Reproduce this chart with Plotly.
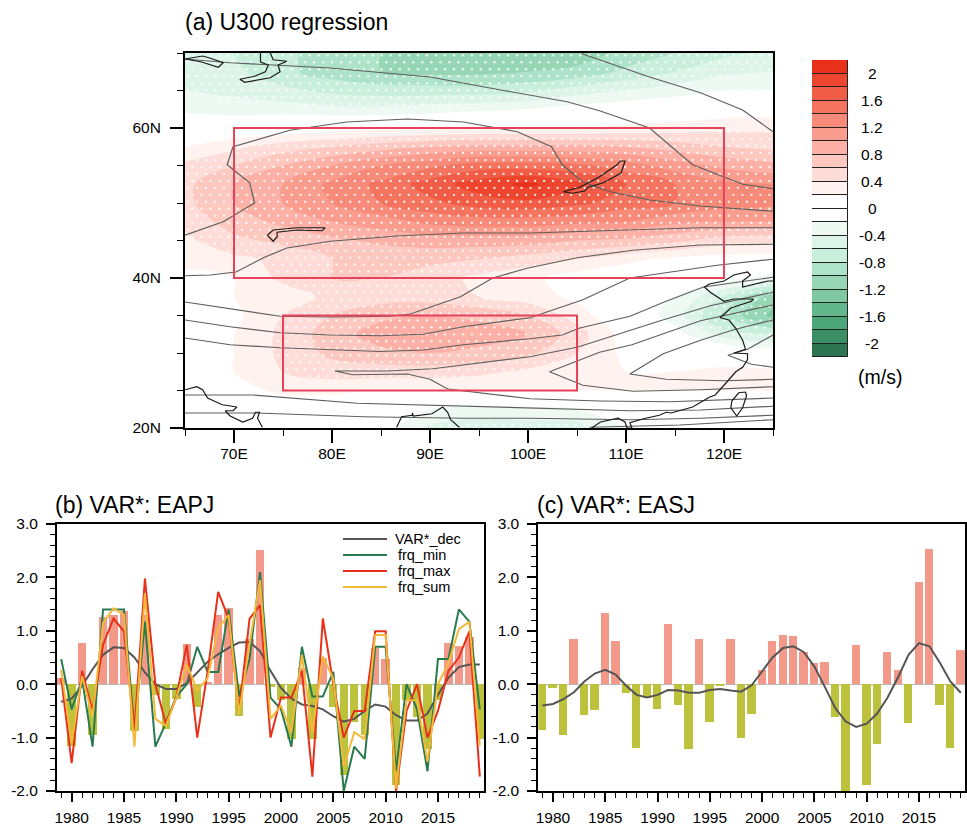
import numpy as np
import plotly.graph_objects as go

W, H = 967, 827
FONT = "Liberation Sans"

# ---------- panel (a) regression field (m/s) ----------
lon = [65, 70, 75, 80, 85, 90, 95, 100, 105, 110, 115, 120, 125]
lat = [20, 22.5, 25, 27.5, 30, 32.5, 35, 37.5, 40, 42.5, 45, 47.5, 50, 52.5, 55, 57.5, 60, 62.5, 65, 67.5, 70]
u300 = [
    [0, 0, 0, 0, -.1, -.45, -.55, -.5, -.5, -.2, 0, 0, 0],
    [0, 0, 0, 0, -.05, -.2, -.25, -.25, -.2, -.05, 0, 0, 0],
    [0, .1, .25, .25, .2, .2, .2, .2, .2, .2, .2, .2, .2],
    [0, .2, .4, .5, .5, .5, .45, .35, .25, .2, .2, .25, .25],
    [0, .2, .45, .65, .75, .8, .75, .65, .4, .15, .05, .05, -.1],
    [.05, .2, .45, .7, .9, .95, .9, .8, .5, .1, -.1, -.5, -.6],
    [.05, .15, .4, .6, .75, .8, .75, .6, .3, 0, -.3, -.85, -1.25],
    [.1, .2, .3, .45, .5, .5, .4, .3, .15, 0, -.2, -.6, -1.1],
    [.15, .2, .45, .6, .6, .5, .35, .25, .1, .05, 0, -.1, -.3],
    [.25, .35, .45, .6, .62, .65, .6, .5, .4, .25, .15, .1, .1],
    [.35, .55, .65, .75, .85, .9, .9, .9, .8, .75, .65, .5, .45],
    [.45, .7, .85, 1.0, 1.1, 1.25, 1.3, 1.3, 1.25, 1.2, 1.05, 1.0, 1.0],
    [.55, .8, 1.0, 1.2, 1.4, 1.55, 1.7, 1.75, 1.65, 1.5, 1.4, 1.3, 1.25],
    [.55, .8, 1.0, 1.25, 1.45, 1.7, 1.9, 2.05, 1.85, 1.6, 1.4, 1.25, 1.2],
    [.45, .6, .8, 1.0, 1.2, 1.35, 1.5, 1.5, 1.45, 1.3, 1.1, .95, .85],
    [.2, .35, .5, .6, .7, .8, .85, .85, .85, .8, .7, .6, .55],
    [0, 0, .05, .1, .15, .15, .2, .2, .2, .25, .3, .35, .35],
    [-.25, -.3, -.3, -.35, -.35, -.3, -.25, -.2, -.1, -.05, 0, .05, .1],
    [-.4, -.45, -.55, -.65, -.7, -.7, -.7, -.65, -.5, -.4, -.3, -.2, -.2],
    [-.45, -.55, -.75, -.9, -1.0, -1.05, -1.05, -1.0, -.95, -.75, -.6, -.45, -.4],
    [-.55, -.6, -.75, -.9, -1.0, -1.1, -1.15, -1.15, -1.1, -.95, -.8, -.65, -.55],
]

# colour table, from below -2.2 up to above 2.2
level_colors = ["#2A7550", "#2D7550", "#3B8F66", "#4BA679", "#62B78C", "#7DC8A2", "#96D6B5",
                "#ADE3C8", "#C8EEDC", "#DDF4E9", "#EEF9F4", "#FFFFFF", "#FFFFFF", "#FFF2EF",
                "#FEDDD8", "#FDC8C0", "#FCB0A6", "#FA9C8E", "#F78A78", "#F47460", "#F05C45",
                "#EE452E", "#E8301A", "#E8301A"]
cbar_levels = [round(-2.2 + 0.2 * i, 1) for i in range(22)]
cbar_ticks = [2, 1.6, 1.2, 0.8, 0.4, 0, -0.4, -0.8, -1.2, -1.6, -2]
cbar_labels = ["2", "1.6", "1.2", "0.8", "0.4", "0", "-0.4", "-0.8", "-1.2", "-1.6", "-2"]

# climatological wind contours, (lon, lat)
clim_lines = [
    [(65, 69.2), (69.6, 68.7), (79.8, 68), (90, 66.8), (97.1, 65.1), (104, 63.5), (107.3, 62.3),
     (112.4, 60), (116.8, 55.1), (121.9, 52.5), (125, 51.9)],
    [(105.5, 69.9), (112.4, 66.8), (117.6, 64.7), (121.9, 62.4), (125, 59.5)],
    [(65, 45.7), (68.9, 47.5), (72.1, 50), (71.6, 52.7), (69.3, 55.1), (69.9, 57.5), (75.7, 59.7),
     (81.5, 60.8), (87.7, 61.2), (93.4, 60.8), (98.9, 59.5), (102.4, 57.5), (103.5, 55.1),
     (105.6, 52.8), (108.4, 51.5), (112.4, 50.4), (117.6, 49.6), (125, 48.9)],
    [(65, 40.3), (67.6, 40.4), (70.2, 40.8), (73, 42.7), (75.4, 44), (79.8, 44.9), (86.6, 45.6),
     (93.4, 46), (100.2, 46), (107.3, 46.3), (117.6, 46.7), (125, 46.7)],
    [(65, 36.8), (69.6, 35.9), (74.7, 34.9), (79.8, 34.8), (85.9, 34.9), (88, 35.2), (93.1, 37.5),
     (96.4, 40), (99.9, 41.3), (105, 42.7), (110.7, 43.7), (117.6, 44.4), (125, 44.5)],
    [(65, 34.4), (69.6, 33.5), (74.7, 32.7), (79.8, 32.4), (84.9, 32.3), (89.3, 32.5), (93.4, 33.5),
     (100.2, 34.7), (105.6, 37.1), (110.4, 40), (119.3, 41.7), (125, 42.5)],
    [(65, 32), (69.6, 31.1), (74.7, 30.7), (79.8, 30.4), (84.9, 30.2), (89.3, 30.4), (93.4, 31.1),
     (100.2, 31.9), (103.5, 32.4), (105.2, 33.3), (110.4, 34.9), (114.1, 36.9), (117.9, 38.8), (125, 40.1)],
    [(125, 38.1), (118.6, 36.3), (113.5, 34.3), (107.4, 31.7), (105.1, 30.8), (100.2, 29.5), (90.3, 27.9),
     (85.6, 27.6), (80.3, 27.6), (82.1, 27.1), (87.7, 27.2), (90, 26.5), (91.8, 25.2), (100.2, 23.9),
     (107.3, 23.6), (114.5, 23.5), (125, 24)],
    [(125, 36.4), (117.6, 34.3), (110.6, 31.1), (107.3, 30.1), (102.2, 27.5), (105.6, 25.7), (110.7, 24.9),
     (117.6, 25.1), (125, 25.5)],
    [(125, 34.4), (121, 33.1), (117.6, 31.7), (113.8, 29.9), (110.4, 27.2), (114.1, 26.5), (120, 26.3), (125, 26.5)],
    [(125, 32.4), (122.4, 30.5), (120.4, 29.7), (122.8, 28.5), (125, 28.1)],
    [(65, 24.4), (71.9, 24.4), (82.6, 23.3), (93.4, 22.9), (100.2, 22.7), (110.4, 22.3), (117.6, 22.4), (125, 22.9)],
    [(65, 22), (72.3, 22), (83.2, 21.5), (93.4, 21.3), (100.2, 21.3), (110.4, 21.1), (117.6, 21.3), (125, 21.7)],
    [(106.3, 20.1), (115.5, 20.4), (125, 21.1)],
]

coast_lines = [
    [(65, 69.2), (66.8, 69.6), (67.6, 69.3), (68.9, 68.7), (68.4, 68.1), (66.7, 68.8), (65, 69.2)],
    [(72.7, 70), (72.7, 68.8), (73.5, 68.4), (73.2, 67.5), (72.1, 66.9), (70.6, 66.5), (71.1, 66.1),
     (73.7, 66.7), (74.7, 67.5), (74.5, 68.4), (75.4, 68.9), (74, 69.1), (73.7, 70)],
    [(73.4, 45.7), (74, 46.4), (76.4, 46.7), (79.3, 46.7), (79, 46.3), (76.4, 46.4), (74.4, 46.1),
     (74.4, 45.5), (74, 44.9), (73.4, 45.7)],
    [(103.6, 51.5), (105.3, 52.1), (107.3, 53.5), (109.1, 55.1), (109.4, 55.6), (109.9, 55.6), (109.5, 54),
     (107.7, 52.7), (106.1, 52.1), (105.8, 51.6), (104.5, 51.3), (103.6, 51.5)],
    [(65, 25.1), (66.2, 25.5), (66.8, 25.1), (67.3, 24), (68.8, 23.1), (70.3, 22.8), (69.9, 22.3), (69.1, 22.3),
     (69.6, 21.6), (70.9, 20.8), (71.9, 21.3), (72.2, 22.1), (72.6, 22.1), (72.4, 21.3), (72.9, 20.1)],
    [(86.6, 20.1), (87.1, 21.5), (88.2, 21.7), (88.2, 22), (88.3, 21.6), (90.2, 21.9), (91.3, 22.8),
     (91.8, 22.1), (92.1, 21.1), (93, 20.1)],
    [(106.5, 20), (107.4, 20.8), (109.2, 21.3), (109.9, 20.8), (110.1, 20), (110.6, 20), (110.4, 20.7), (112, 21.3),
     (113.4, 21.7), (114.1, 22.1), (114.6, 22), (116.8, 22.8), (118.5, 24.1), (119.1, 24.4), (120.2, 26),
     (121.2, 27.5), (121.9, 28.1), (122.4, 29.1), (122.4, 29.9), (121, 30), (122.2, 30.5), (121.9, 31.7),
     (121.2, 33.3), (120.5, 34.4), (119.6, 34.7), (120.7, 36), (122.8, 36.9), (123, 37.2), (121, 37.2),
     (120, 36.9), (118.6, 38.1), (118, 38.8), (118.5, 39.2), (120, 39.6), (121, 40.4), (122.4, 40.8),
     (122.7, 40.4), (121.9, 39.6), (121.9, 38.8), (123.1, 39.2), (124.5, 39.6), (125, 39.6)],
    [(122.2, 24.8), (121.5, 24.7), (120.8, 23.6), (120.7, 22.7), (121.3, 21.6), (121.9, 22.7), (122.3, 24.3), (122.2, 24.8)],
]

box_north = (70, 120, 40, 60)
box_south = (75, 105, 25, 35)

# ---------- panels (b), (c) ----------
years = list(range(1979, 2020))
eapj_bar = [.12, -1.15, .78, -.95, 1.25, 1.30, 1.38, -.87, 1.3, -.2, -.84, -.27, .75, -.42, .05, 1.3, 1.42, -.6, .85,
            2.52, -.05, -.3, -1.03, .3, -1.03, .5, -.43, -1.7, -.7, -.95, .68, .48, -1.88, -.3, -.62, -1.22, -.3,
            .78, .72, .88, -1.03]
eapj_dec = [-.33, -.27, -.03, .28, .55, .69, .68, .5, .22, 0, -.09, -.09, .02, .22, .42, .56, .68, .78, .79, .62, .25,
            -.07, -.27, -.38, -.41, -.47, -.6, -.7, -.65, -.5, -.38, -.42, -.58, -.68, -.68, -.55, -.2, .12, .32, .37, .37]
frq_min = [.47, -.47, .1, -1.17, 1.4, 1.4, 1.4, -.87, 1.17, -1.17, -.73, -.23, 0, .7, .23, .23, 1.4, -.23, .47, 2.1,
           -.25, -.47, -1.17, .7, -.23, -.23, .23, -2.0, -1.17, -1.4, .7, .7, -1.63, 0, -.47, -1.63, .47, .47, 1.4, 1.17, -.47]
frq_max = [.12, -1.48, .25, -.5, .74, 1.23, .99, -.87, 1.98, 0, -.74, -.25, .74, -1.0, .25, 1.73, 1.23, -.5, 1.23, 1.48,
           -1.0, -.25, -.25, .25, -1.73, 1.23, 0, -1.0, -.5, -.5, .99, .99, -2.0, -.5, 0, -1.0, -.5, .25, .5, .99, -1.73]
frq_sum = [.27, -1.1, .15, -.6, 1.15, 1.42, 1.3, -1.17, 1.7, -.65, -.78, -.25, .37, -.12, .12, 1.05, 1.3, -.55, .75, 1.95,
           -.65, -.4, -.9, .55, -.9, .52, .1, -1.55, -.9, -1.03, .92, .92, -1.95, -.3, -.3, -1.45, 0, .4, 1.03, 1.17, -1.15]
easj_bar = [-.85, -.08, -.96, .85, -.57, -.48, 1.33, .81, -.16, -1.2, -.25, -.47, 1.12, -.39, -1.21, .85, -.7, -.04, .84,
            -1.01, -.56, .26, .8, .93, .91, .61, .4, .42, -.61, -2.0, .74, -1.89, -1.12, .6, .27, -.72, 1.92, 2.53, -.39, -1.2, .64]
easj_dec = [-.4, -.37, -.28, -.15, .05, .2, .27, .18, -.03, -.2, -.25, -.2, -.11, -.12, -.16, -.16, -.11, -.09, -.12, -.14, -.02,
            .23, .5, .68, .71, .6, .33, -.05, -.45, -.7, -.8, -.74, -.55, -.25, .13, .55, .77, .71, .4, .05, -.16]
legend_names = ["VAR*_dec", "frq_min", "frq_max", "frq_sum"]
legend_colors = ["#555555", "#2A7A4F", "#E8301A", "#F5B93A"]

POS, NEG = "#F3998A", "#BCC23C"


def xdom(a, b):
    return [a / W, b / W]


def ydom(top, bottom):
    return [1 - bottom / H, 1 - top / H]


def px(x):
    return x / W


def py(y):
    return 1 - y / H


fig = go.Figure()

# ---------- map ----------
fig.add_trace(go.Contour(
    x=lon, y=lat, z=u300, xaxis="x", yaxis="y", showscale=False, hoverinfo="skip",
    colorscale=[[i / 23, c] for i, c in enumerate(level_colors)],
    contours=dict(start=-2.2, end=2.2, size=0.2, coloring="fill", showlines=False),
    line=dict(width=0),
))

# significance stippling, taken from the field
z = np.array(u300)
sx, sy = [], []
for j, la in enumerate(np.arange(20.4, 70, 0.93)):
    offset = 0.46 if j % 2 else 0
    for lo in np.arange(65.3 + offset, 125, 0.92):
        i0 = min(int((la - 20) / 2.5), 19)
        k0 = min(int((lo - 65) / 5), 11)
        t = (la - lat[i0]) / 2.5
        s = (lo - lon[k0]) / 5
        v = ((1 - t) * (1 - s) * z[i0, k0] + (1 - t) * s * z[i0, k0 + 1]
             + t * (1 - s) * z[i0 + 1, k0] + t * s * z[i0 + 1, k0 + 1])
        if v > 0.4 or v < -0.38:
            sx.append(float(lo))
            sy.append(float(la))
fig.add_trace(go.Scatter(x=sx, y=sy, mode="markers", xaxis="x", yaxis="y", hoverinfo="skip", showlegend=False,
                         marker=dict(size=2.4, color="rgba(255,255,255,0.85)", line=dict(width=0))))

for ln in clim_lines:
    fig.add_trace(go.Scatter(x=[p[0] for p in ln], y=[p[1] for p in ln], mode="lines", xaxis="x", yaxis="y",
                             showlegend=False, hoverinfo="skip", line=dict(color="#5E5E5E", width=1.2)))
for ln in coast_lines:
    fig.add_trace(go.Scatter(x=[p[0] for p in ln], y=[p[1] for p in ln], mode="lines", xaxis="x", yaxis="y",
                             showlegend=False, hoverinfo="skip", line=dict(color="#1A1A1A", width=1.2)))

shapes = []
for b in (box_north, box_south):
    shapes.append(dict(type="rect", xref="x", yref="y", x0=b[0], x1=b[1], y0=b[2], y1=b[3],
                       line=dict(color="#E8415A", width=2), layer="above"))

# ---------- colour bar ----------
fig.add_trace(go.Bar(x=[0] * len(cbar_levels), y=[0.2] * len(cbar_levels), base=cbar_levels, width=1,
                     xaxis="x4", yaxis="y4", showlegend=False, hoverinfo="skip",
                     marker=dict(color=level_colors[1:23], line=dict(color="#222222", width=1))))

# ---------- bars and lines ----------
fig.add_trace(go.Bar(x=years, y=eapj_bar, xaxis="x2", yaxis="y2", width=0.8, showlegend=False,
                     marker=dict(color=[POS if v > 0 else NEG for v in eapj_bar], line=dict(width=0))))
for vals, name, col in zip([eapj_dec, frq_min, frq_max, frq_sum], legend_names, legend_colors):
    fig.add_trace(go.Scatter(x=years, y=vals, mode="lines", name=name, xaxis="x2", yaxis="y2", showlegend=False,
                             line=dict(color=col, width=2)))
fig.add_trace(go.Bar(x=years, y=easj_bar, xaxis="x3", yaxis="y3", width=0.8, showlegend=False,
                     marker=dict(color=[POS if v > 0 else NEG for v in easj_bar], line=dict(width=0))))
fig.add_trace(go.Scatter(x=years, y=easj_dec, mode="lines", name="VAR*_dec", xaxis="x3", yaxis="y3", showlegend=False,
                         line=dict(color="#555555", width=2)))

# legend of panel (b)
annotations = []
for i, (name, col) in enumerate(zip(legend_names, legend_colors)):
    yp = 539 + 16 * i
    shapes.append(dict(type="line", xref="paper", yref="paper", x0=px(343), x1=px(387), y0=py(yp), y1=py(yp),
                       line=dict(color=col, width=1.8)))
    annotations.append(dict(text=name, xref="paper", yref="paper", x=px(393 if i == 0 else 396), y=py(yp),
                            xanchor="left", yanchor="middle", showarrow=False, font=dict(size=14.5)))

# titles
for text, xp, yp in [("(a) U300 regression", 182.5, 22), ("(b) VAR*: EAPJ", 53, 505), ("(c) VAR*: EASJ", 534.5, 505)]:
    annotations.append(dict(text=text, xref="paper", yref="paper", x=px(xp), y=py(yp), xanchor="left",
                            yanchor="middle", showarrow=False, font=dict(size=23)))

# colour-bar labels
for v, t in zip(cbar_ticks, cbar_labels):
    annotations.append(dict(text=t, xref="paper", yref="y4", x=px(872), y=v, xanchor="center", yanchor="middle",
                            showarrow=False, font=dict(size=15.5)))
annotations.append(dict(text="(m/s)", xref="paper", yref="paper", x=px(880), y=py(377), xanchor="center",
                        yanchor="middle", showarrow=False, font=dict(size=19.5)))

line_opts = dict(showline=True, linecolor="black", linewidth=2, mirror=True, showgrid=False, zeroline=False,
                 automargin=False, tickcolor="black", tickfont=dict(size=15.5, color="black"), ticks="outside")

map_x = dict(domain=xdom(185, 773), range=[65, 125], tickvals=[70, 80, 90, 100, 110, 120],
             ticktext=["70E", "80E", "90E", "100E", "110E", "120E"], ticklen=13, tickwidth=2, ticklabelstandoff=-3,
             minor=dict(tickvals=[65, 75, 85, 95, 105, 115, 125], ticks="outside", ticklen=6, tickwidth=1.2, tickcolor="black"),
             **line_opts)
map_y = dict(domain=ydom(53, 428), range=[20, 70], tickvals=[20, 40, 60], ticktext=["20N", "40N", "60N"],
             ticklen=13, tickwidth=2, ticklabelstandoff=6,
             minor=dict(tickvals=[25, 30, 35, 45, 50, 55, 65, 70], ticks="outside", ticklen=6, tickwidth=1.2, tickcolor="black"),
             **line_opts)

year_ticks = list(range(1980, 2016, 5))
minor_years = [y for y in range(1979, 2020) if y % 5]
y_major = [-2, -1, 0, 1, 2, 3]
y_labels = ["-2.0", "-1.0", "0.0", "1.0", "2.0", "3.0"]
y_minor = [round(-2 + 0.2 * i, 1) for i in range(26) if i % 5]


def ts_x(a, b):
    return dict(domain=xdom(a, b), range=[1978.6, 2019.4], tickvals=year_ticks, ticktext=[str(y) for y in year_ticks],
                ticklen=9, tickwidth=1.6, ticklabelstandoff=2,
                minor=dict(tickvals=minor_years, ticks="outside", ticklen=5, tickwidth=1, tickcolor="black"),
                **line_opts)


def ts_y(anchor):
    o = dict(line_opts)
    o["zeroline"] = True
    o["zerolinecolor"] = "#BBBBBB"
    o["zerolinewidth"] = 1
    return dict(domain=ydom(524, 791), range=[-2, 3], tickvals=y_major, ticktext=y_labels, ticklen=9, tickwidth=1.6,
                anchor=anchor, ticklabelstandoff=5,
                minor=dict(tickvals=y_minor, ticks="outside", ticklen=5, tickwidth=1, tickcolor="black"), **o)


fig.update_layout(
    width=W, height=H, margin=dict(l=0, r=0, t=0, b=0), autosize=False,
    paper_bgcolor="white", plot_bgcolor="white", font=dict(family=FONT, color="black"),
    showlegend=False, bargap=0, barmode="overlay", shapes=shapes, annotations=annotations,
    xaxis=map_x, yaxis=map_y,
    xaxis2=dict(anchor="y2", **ts_x(57, 484)), yaxis2=ts_y("x2"),
    xaxis3=dict(anchor="y3", **ts_x(538.3, 965)), yaxis3=ts_y("x3"),
    xaxis4=dict(anchor="y4", domain=xdom(812, 848), range=[-0.5, 0.5], visible=False, automargin=False),
    yaxis4=dict(anchor="x4", domain=ydom(60, 357), range=[-2.2, 2.2], visible=False, automargin=False),
)

fig.write_html("out.html", config=dict(displayModeBar=False),
               post_script="document.body.style.margin='0';document.documentElement.style.overflow='hidden';")
